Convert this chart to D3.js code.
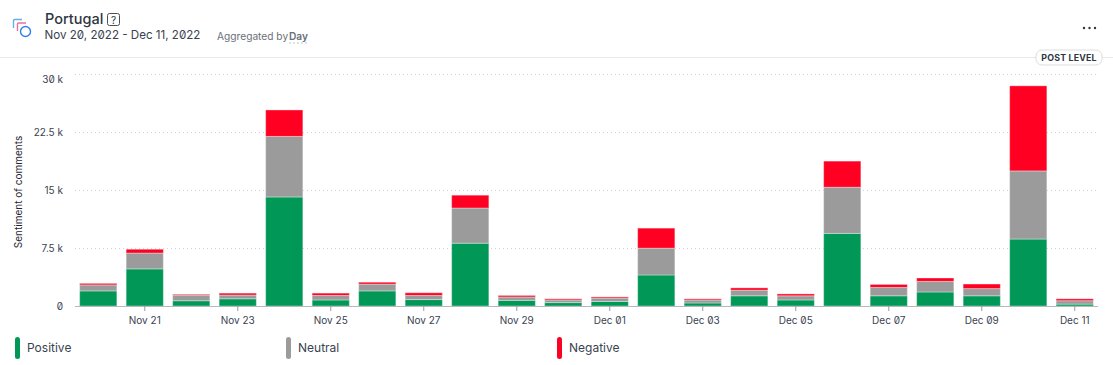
<!DOCTYPE html>
<html>
<head>
<meta charset="utf-8">
<script src="https://cdn.jsdelivr.net/npm/d3@7/dist/d3.min.js"></script>
<style>
body { margin: 0; background: #fff; font-family: Inter, sans-serif; }
text { font-family: Inter, sans-serif; }
.num { font-feature-settings: "zero" 1; }
</style>
</head>
<body>
<div id="graph"></div>
<script>
var days = ["2022-11-20","2022-11-21","2022-11-22","2022-11-23","2022-11-24","2022-11-25","2022-11-26","2022-11-27","2022-11-28","2022-11-29","2022-11-30","2022-12-01","2022-12-02","2022-12-03","2022-12-04","2022-12-05","2022-12-06","2022-12-07","2022-12-08","2022-12-09","2022-12-10","2022-12-11"];
var positive = [1950,4800,680,930,14100,780,1950,830,8120,730,440,590,4010,390,1320,780,9390,1320,1810,1320,8660,245];
var neutral  = [780,2050,730,490,7830,590,880,540,4550,440,340,440,3470,390,730,540,5970,1080,1370,930,8810,440];
var negative = [195,490,100,245,3420,295,245,340,1660,195,145,145,2590,145,295,245,3375,390,440,590,11000,245];
var yTicks = [0,7500,15000,22500,30000];
var yLabels = ["0","7.5 k","15 k","22.5 k","30 k"];
var seriesNames = ["Positive","Neutral","Negative"];
var colors = ["#019857","#9b9b9b","#ff0022"];

var svg = d3.select("#graph").append("svg")
	.attr("width", 1113)
	.attr("height", 365)
	.style("display", "block");

var parse = d3.timeParse("%Y-%m-%d");
var table = days.map(function(d, i){
	return {day: d, Positive: positive[i], Neutral: neutral[i], Negative: negative[i]};
});

// scales
var x = d3.scaleBand().domain(days).range([75, 1098]).paddingInner(0.2).paddingOuter(0.1);
var y = d3.scaleLinear().domain([0, 30000]).range([306, 74]);

// header
svg.append("rect").attr("x", 0).attr("y", 57).attr("width", 1113).attr("height", 1).attr("fill", "#e8e9ea");

var icon = svg.append("g").attr("fill", "none").attr("stroke-width", 1.4);
icon.append("path").attr("d", "M13.5 28 V20.5 Q13.5 19.5 14.5 19.5 H22").attr("stroke", "#62b0ee");
icon.append("path").attr("d", "M17.5 31 V24 Q17.5 23 18.5 23 H26").attr("stroke", "#ee6f96");
icon.append("circle").attr("cx", 25.5).attr("cy", 31.5).attr("r", 5).attr("stroke", "#2f80ed").attr("fill", "#fff");

svg.append("text").attr("x", 45).attr("y", 24).attr("font-size", 14.5).attr("font-weight", 500).attr("fill", "#2e3643").text("Portugal");
svg.append("rect").attr("x", 107.5).attr("y", 13.5).attr("width", 12).attr("height", 12).attr("rx", 2).attr("fill", "none").attr("stroke", "#4a4f58");
svg.append("text").attr("x", 113.5).attr("y", 23.5).attr("text-anchor", "middle").attr("font-size", 10).attr("fill", "#2e3643").text("?");
svg.append("text").attr("class", "num").attr("x", 44.5).attr("y", 39).attr("font-size", 11.6).attr("fill", "#3a4250").text("Nov 20, 2022 - Dec 11, 2022");
svg.append("text").attr("x", 217).attr("y", 40).attr("font-size", 10.2).attr("fill", "#6a6f78").text("Aggregated by");
svg.append("text").attr("x", 289).attr("y", 40).attr("font-size", 10.2).attr("font-weight", 600).attr("fill", "#6a6f78").text("Day");
svg.append("line").attr("x1", 289).attr("x2", 307).attr("y1", 43).attr("y2", 43).attr("stroke", "#b9c6d8").attr("stroke-dasharray", "2 2");

svg.selectAll(".dot").data([0,1,2]).enter().append("circle")
	.attr("cx", function(d){ return 1084 + d * 5.5; }).attr("cy", 28).attr("r", 1.2).attr("fill", "#2e3643");

var badge = svg.append("g");
badge.append("rect").attr("x", 1036).attr("y", 50).attr("width", 66).attr("height", 15).attr("rx", 6).attr("fill", "#fff").attr("stroke", "#dcdde0");
badge.append("text").attr("x", 1069).attr("y", 60.5).attr("text-anchor", "middle").attr("font-size", 8.8).attr("font-weight", 700).attr("letter-spacing", 0.2).attr("fill", "#2e3643").text("POST LEVEL");

// grid
svg.selectAll(".grid").data(yTicks.slice(1)).enter().append("line")
	.attr("class", "grid")
	.attr("x1", 75).attr("x2", 1098)
	.attr("y1", function(d){ return y(d) + 0.5; }).attr("y2", function(d){ return y(d) + 0.5; })
	.attr("stroke", "#cfd1d4").attr("stroke-dasharray", "1 3");

// bars
var stack = d3.stack().keys(seriesNames)(table);
svg.selectAll(".layer").data(stack).enter().append("g")
	.attr("class", "layer")
	.attr("fill", function(d, i){ return colors[i]; })
	.selectAll("rect").data(function(d){ return d; }).enter().append("rect")
	.attr("x", function(d){ return x(d.data.day); })
	.attr("width", x.bandwidth())
	.attr("y", function(d){ return y(d[1]); })
	.attr("height", function(d){ return y(d[0]) - y(d[1]); })
	.attr("stroke", "#fff").attr("stroke-opacity", 0.35).attr("stroke-width", 1);

// axes
var yAxis = d3.axisLeft(y).tickValues(yTicks).tickSize(0).tickPadding(12)
	.tickFormat(function(d, i){ return yLabels[i]; });
var yG = svg.append("g").attr("transform", "translate(75,0)").call(yAxis);
yG.select(".domain").remove();
yG.selectAll("text").attr("class", "num").attr("font-size", 10).attr("font-family", "Inter").attr("fill", "#3a4250");
// top label sits below its grid line in the original
yG.selectAll("text").filter(function(d){ return d == 30000; }).attr("dy", "0.82em");

var xAxis = d3.axisBottom(x).tickValues(days.filter(function(d, i){ return i % 2 == 1; })).tickSize(5).tickPadding(6)
	.tickFormat(function(d){ return d3.timeFormat("%b %d")(parse(d)); });
var xG = svg.append("g").attr("transform", "translate(0,306)").call(xAxis);
xG.select(".domain").attr("stroke", "#b5b8bd").attr("d", "M75,0.5H1098");
xG.selectAll("line").attr("stroke", "#9a9da3");
xG.selectAll("text").attr("class", "num").attr("font-size", 10).attr("font-family", "Inter").attr("fill", "#3a4250");

// y title
svg.append("text").attr("transform", "translate(22,192) rotate(-90)").attr("text-anchor", "middle")
	.attr("font-size", 10).attr("fill", "#1f2630").text("Sentiment of comments");

// legend
var legendX = [15, 286, 557];
var legend = svg.selectAll(".legend").data(seriesNames).enter().append("g")
	.attr("transform", function(d, i){ return "translate(" + legendX[i] + ",337)"; });
legend.append("rect").attr("width", 5).attr("height", 22).attr("rx", 2.5)
	.attr("fill", function(d, i){ return colors[i]; });
legend.append("text").attr("x", 12).attr("y", 15).attr("font-size", 12).attr("fill", "#3a4250")
	.text(function(d){ return d; });
</script>
</body>
</html>
